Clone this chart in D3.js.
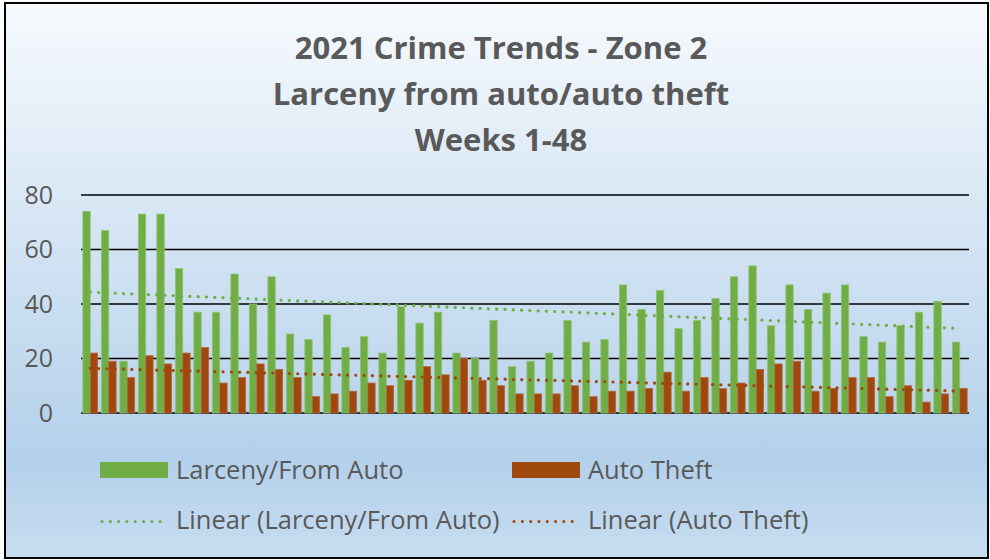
<!DOCTYPE html>
<html>
<head>
<meta charset="utf-8" />
<title>2021 Crime Trends - Zone 2</title>
<script src="https://d3js.org/d3.v7.min.js"></script>
<style>
  body { margin: 0; background: #fff; }
  svg { display: block; font-family: "Open Sans", "Noto Sans", sans-serif; }
  .ylab { font-size: 25px; fill: #595959; }
  .title { font-size: 31px; font-weight: bold; fill: #595959; }
  .leg { font-size: 25.5px; fill: #595959; }
</style>
</head>
<body>
<div id="chart"></div>
<script>
// weeks 1-48
const weeks = d3.range(1, 49);
const larceny = [74,67,19,73,73,53,37,37,51,40,50,29,
                 27,36,24,28,22,39,33,37,22,20,34,17,
                 19,22,34,26,27,47,38,45,31,34,42,50,
                 54,32,47,38,44,47,28,26,32,37,41,26];
const theft = [22,19,13,21,18,22,24,11,13,18,16,13,
               6,7,8,11,10,12,17,14,20,12,10,7,
               7,7,10,6,8,8,9,15,8,13,9,11,
               16,18,19,8,9,13,13,6,10,4,7,9];
const yTicks = [0, 20, 40, 60, 80];
const titleLines = ["2021 Crime Trends - Zone 2", "Larceny from auto/auto theft", "Weeks 1-48"];
const seriesNames = ["Larceny/From Auto", "Auto Theft"];
const colors = ["#70ad47", "#9e480e"];
const outlines = ["#93c472", "#b5693a"];

const width = 990, height = 560;
const svg = d3.select("#chart").append("svg")
    .attr("width", width).attr("height", height);

// background gradient + shadow filter
const defs = svg.append("defs");
const grad = defs.append("linearGradient").attr("id", "bg")
    .attr("x1", 0).attr("y1", 0).attr("x2", 0).attr("y2", 1);
grad.append("stop").attr("offset", "0%").attr("stop-color", "#f7fafd");
grad.append("stop").attr("offset", "35%").attr("stop-color", "#dae8f5");
grad.append("stop").attr("offset", "82%").attr("stop-color", "#b3d0eb");
grad.append("stop").attr("offset", "100%").attr("stop-color", "#c7ddf1");
defs.append("filter").attr("id", "blur")
    .attr("x", "-5%").attr("y", "-200%").attr("width", "110%").attr("height", "500%")
  .append("feGaussianBlur").attr("stdDeviation", 3);

svg.append("rect").attr("x", 5).attr("y", 3).attr("width", 983).attr("height", 555)
    .attr("fill", "url(#bg)").attr("stroke", "#000").attr("stroke-width", 2);

// title
svg.selectAll(".title").data(titleLines).enter().append("text")
    .attr("class", "title")
    .attr("x", 501)
    .attr("y", (d, i) => 59 + i * 46)
    .attr("text-anchor", "middle")
    .text(d => d);

// scales
const x0 = d3.scaleBand().domain(weeks).range([81, 969]).paddingInner(0.2).paddingOuter(0.1);
const x1 = d3.scaleBand().domain([0, 1]).range([0, x0.bandwidth()]);
const y = d3.scaleLinear().domain([0, 80]).range([413, 195]);

// gridlines with soft shadow
const grid = svg.append("g");
grid.selectAll(".shadow").data(yTicks).enter().append("line")
    .attr("x1", 83).attr("x2", 967)
    .attr("y1", d => y(d) + 10).attr("y2", d => y(d) + 10)
    .attr("stroke", "#7f93a8").attr("stroke-opacity", 0.45).attr("stroke-width", 7)
    .attr("filter", "url(#blur)");
grid.selectAll(".gl").data(yTicks).enter().append("line")
    .attr("x1", 81).attr("x2", 969)
    .attr("y1", d => y(d)).attr("y2", d => y(d))
    .attr("stroke", "#000").attr("stroke-width", 1.6);

// y labels
svg.selectAll(".ylab").data(yTicks).enter().append("text")
    .attr("class", "ylab")
    .attr("x", 53)
    .attr("y", d => y(d))
    .attr("dy", "0.35em")
    .attr("text-anchor", "end")
    .text(d => d);

// bars
const bars = svg.append("g");
[larceny, theft].forEach(function(vals, s) {
    bars.selectAll(".b" + s).data(vals).enter().append("rect")
        .attr("x", (d, i) => x0(weeks[i]) + x1(s))
        .attr("y", d => y(d))
        .attr("width", x1.bandwidth())
        .attr("height", d => y(0) - y(d))
        .attr("fill", colors[s])
        .attr("stroke", outlines[s]).attr("stroke-width", 0.8);
});

// linear trend lines (least squares on week number)
function fit(vals) {
    const xs = weeks;
    const mx = d3.mean(xs), my = d3.mean(vals);
    let sxy = 0, sxx = 0;
    xs.forEach((xv, i) => { sxy += (xv - mx) * (vals[i] - my); sxx += (xv - mx) * (xv - mx); });
    const b = sxy / sxx, a = my - b * mx;
    return xv => a + b * xv;
}
const cx = w => x0(w) + x0.bandwidth() / 2;
[larceny, theft].forEach(function(vals, s) {
    const f = fit(vals);
    const first = weeks[0], last = weeks[weeks.length - 1];
    svg.append("line")
        .attr("x1", cx(first)).attr("y1", y(f(first)))
        .attr("x2", cx(last)).attr("y2", y(f(last)))
        .attr("stroke", colors[s]).attr("stroke-width", 3.2)
        .attr("stroke-linecap", "round")
        .attr("stroke-dasharray", "0.1 8.2");
});

// legend
const legX = [100, 512];
seriesNames.forEach(function(name, s) {
    svg.append("rect")
        .attr("x", legX[s]).attr("y", 462).attr("width", 68).attr("height", 16)
        .attr("fill", colors[s]);
    svg.append("text").attr("class", "leg")
        .attr("x", legX[s] + 76).attr("y", 479).text(name);
    svg.append("line")
        .attr("x1", legX[s] + 2).attr("x2", legX[s] + 68)
        .attr("y1", 521.5).attr("y2", 521.5)
        .attr("stroke", colors[s]).attr("stroke-width", 3)
        .attr("stroke-linecap", "round")
        .attr("stroke-dasharray", "0.1 8.2");
    svg.append("text").attr("class", "leg")
        .attr("x", legX[s] + 76).attr("y", 529).text("Linear (" + name + ")");
});
</script>
</body>
</html>
